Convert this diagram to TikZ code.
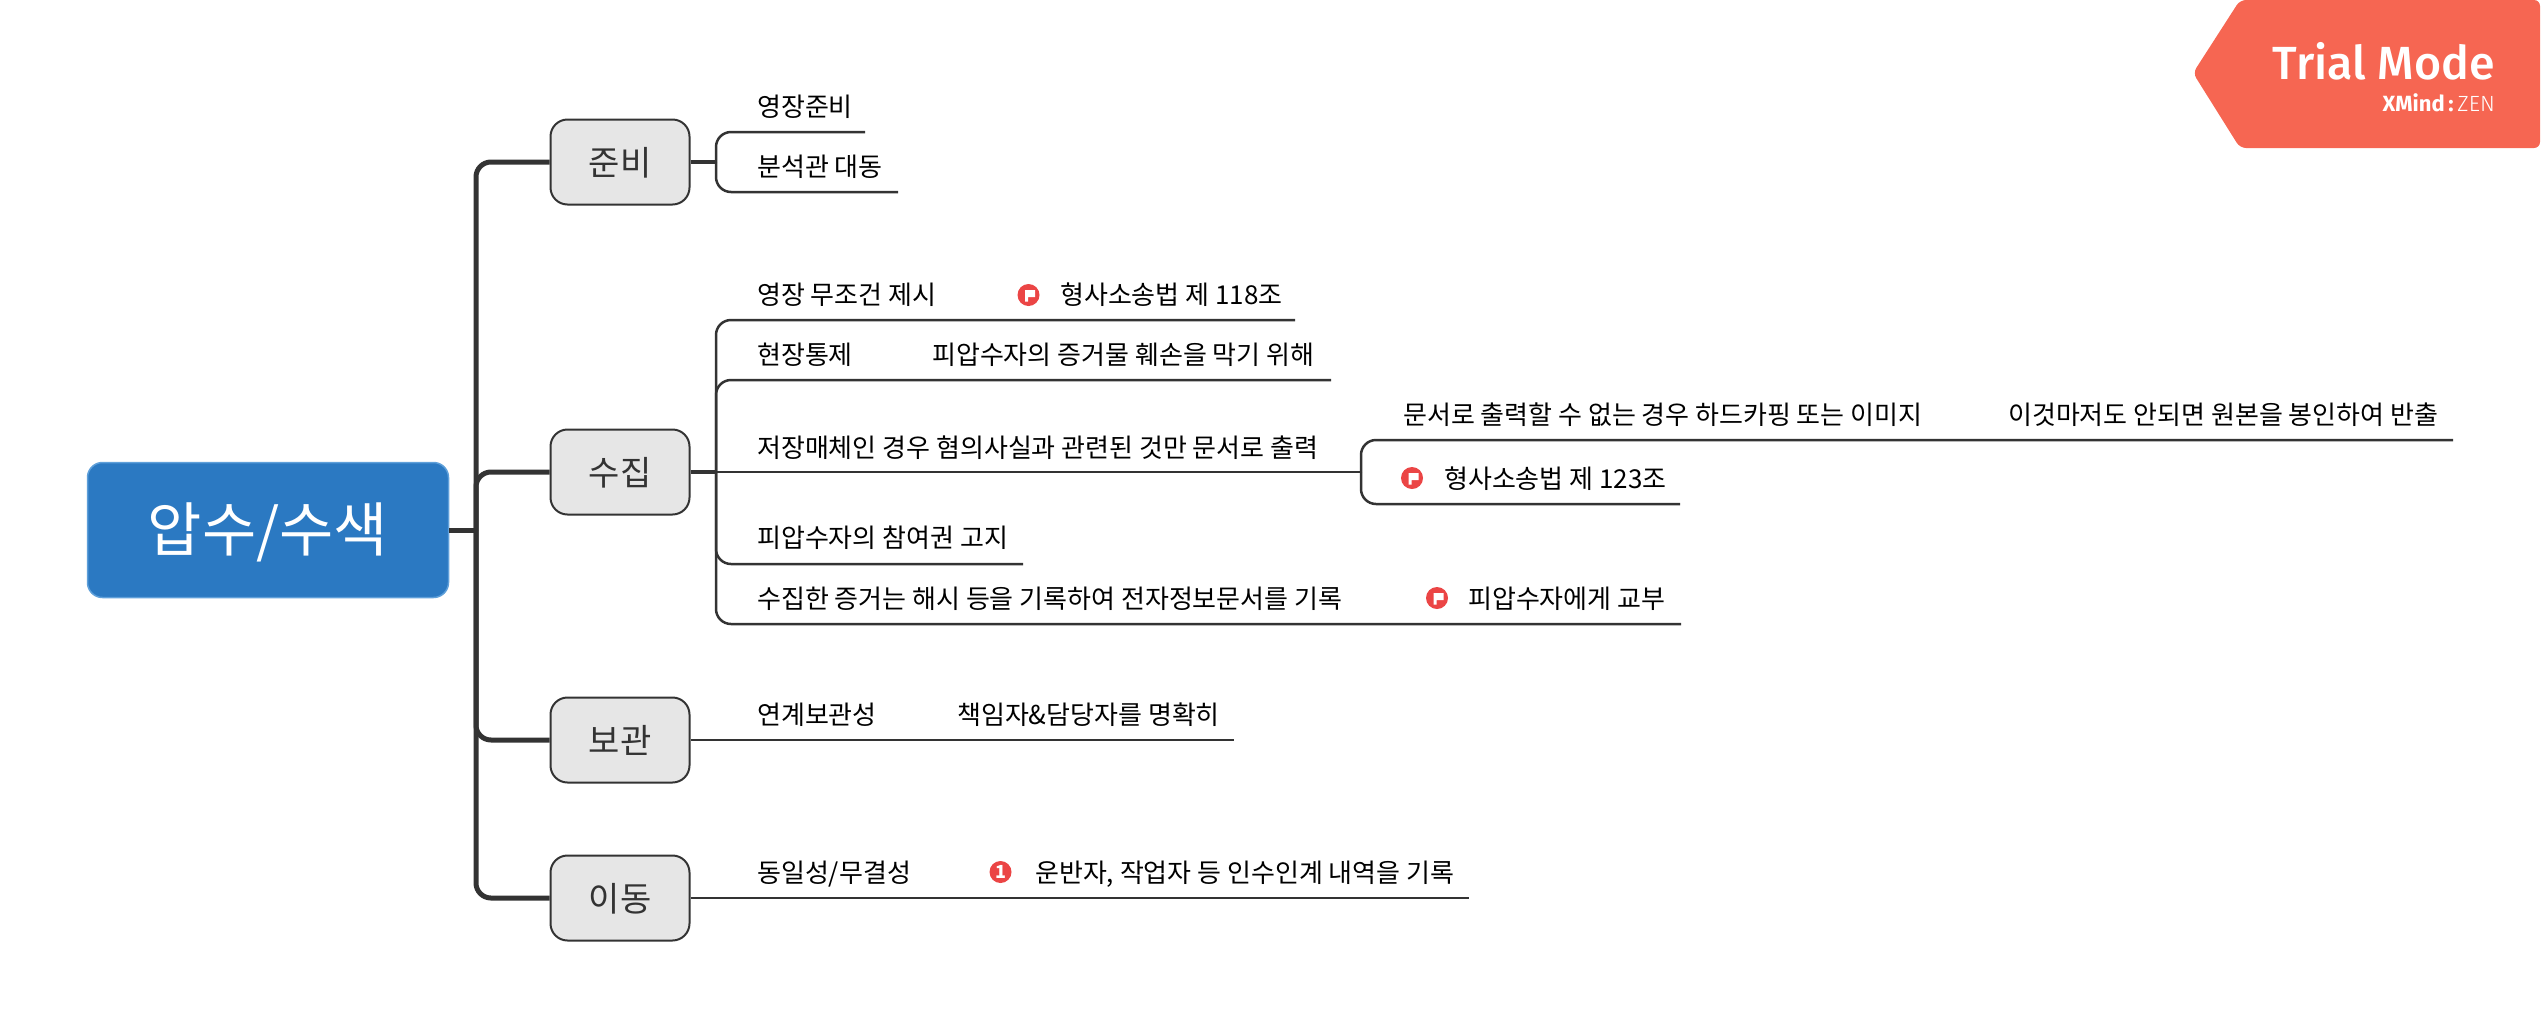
\documentclass[tikz,border=0pt]{standalone}
\usepackage{fontspec}
\setmainfont{Noto Sans CJK KR}
\newfontfamily\trialfont{Fira Sans Medium}
\newfontfamily\zenfont{Fira Sans Light}
\newfontfamily\zenbold{Fira Sans Bold}
\definecolor{ink}{HTML}{333333}
\definecolor{rootblue}{HTML}{2B79C2}
\definecolor{rootedge}{HTML}{5FA0DA}
\definecolor{boxgrey}{HTML}{E6E6E6}
\definecolor{badge}{HTML}{EB4545}
\definecolor{trial}{HTML}{F66652}
\tikzset{
  x=1pt,y=-1pt,
  rootbox/.style={draw=rootedge,line width=1.5pt,fill=rootblue,rounded corners=15pt,minimum width=361pt,minimum height=135pt,inner sep=0,text=white,font=\fontsize{59}{60}\selectfont,text height=52pt,text depth=10pt},
  topic/.style={draw=ink,line width=2pt,fill=boxgrey,rounded corners=17pt,minimum width=139pt,minimum height=85pt,inner sep=0,text=ink,font=\fontsize{34}{36}\selectfont,text height=30pt,text depth=4pt},
  leaf/.style={anchor=west,inner sep=0,text=black,font=\fontsize{26}{28}\selectfont,text height=23pt,text depth=3pt},
  trunkline/.style={draw=ink,line width=5pt,rounded corners=15pt},
  branchline/.style={draw=ink,line width=2.5pt,rounded corners=15pt},
  stubline/.style={draw=ink,line width=3.5pt},
  badgedot/.style={circle,fill=badge,minimum size=22pt,inner sep=0},
}
\newcommand{\flagmark}[1]{\fill[white] ($(#1)+(-3.5,-5)$) -- ++(10,0) -- ++(0,7) -- ++(-7,0) -- ++(0,4.5) -- ++(-3,0) -- cycle;}
\usetikzlibrary{calc}
\begin{document}
\begin{tikzpicture}
\useasboundingbox (0,0) rectangle (2541,1029);
% trial badge
\fill[trial,rounded corners=6pt] (2240,0) -- (2193,73) -- (2240,148) -- (2540,148) -- (2540,0) -- cycle;
\node[anchor=east,inner sep=0,text=white,font=\trialfont\fontsize{46.5}{50}\selectfont] (trialtext) at (2495,61) {Trial Mode};
\node[anchor=east,inner sep=0,text=white,font=\fontsize{22}{24}\selectfont] (zentext) at (2495,103) {{\zenbold XMind}{\zenbold\,:\,}{\zenfont ZEN}};
% main nodes
\node[rootbox] (root) at (268,530) {압수/수색};
\node[topic] (b1) at (620,162) {준비};
\node[topic] (b2) at (620,472) {수집};
\node[topic] (b3) at (620,740) {보관};
\node[topic] (b4) at (620,898) {이동};
\coordinate (trunk) at (476,530);
\coordinate (split1) at (716,162);
\coordinate (split2) at (716,472);
\coordinate (split3) at (1361,472);
% leaves
\node[leaf] (a1) at (757,106) {영장준비};
\node[leaf] (a2) at (757,166) {분석관 대동};
\node[leaf] (c1) at (757,294) {영장 무조건 제시};
\node[badgedot] (c1f) at (1028.5,295) {};
\node[leaf] (c1n) at (1060,294) {형사소송법 제 118조};
\node[leaf] (c2) at (757,354) {현장통제};
\node[leaf] (c2n) at (932,354) {피압수자의 증거물 훼손을 막기 위해};
\node[leaf] (c3) at (757,447) {저장매체인 경우 혐의사실과 관련된 것만 문서로 출력};
\node[leaf] (d1) at (1403,414) {문서로 출력할 수 없는 경우 하드카핑 또는 이미지};
\node[leaf] (d1n) at (2008,414) {이것마저도 안되면 원본을 봉인하여 반출};
\node[badgedot] (d2f) at (1412,478) {};
\node[leaf] (d2) at (1444,478) {형사소송법 제 123조};
\node[leaf] (c4) at (757,537) {피압수자의 참여권 고지};
\node[leaf] (c5) at (757,598) {수집한 증거는 해시 등을 기록하여 전자정보문서를 기록};
\node[badgedot] (c5f) at (1437,598) {};
\node[leaf] (c5n) at (1468,598) {피압수자에게 교부};
\node[leaf] (e1) at (757,714) {연계보관성};
\node[leaf] (e1n) at (957,714) {책임자\&담당자를 명확히};
\node[leaf] (f1) at (757,872) {동일성/무결성};
\node[badgedot] (f1f) at (1000.5,872) {};
\node[text=white,inner sep=0,font=\bfseries\fontsize{18}{18}\selectfont] (f1one) at (f1f) {1};
\node[leaf] (f1n) at (1035,872) {운반자, 작업자 등 인수인계 내역을 기록};
\flagmark{c1f}
\flagmark{d2f}
\flagmark{c5f}
% line ends
\coordinate (ea1) at (865,132);
\coordinate (ea2) at (898,192);
\coordinate (ec1) at (1295,320);
\coordinate (ec2) at (1331,380);
\coordinate (ec4) at (1023,564);
\coordinate (ec5) at (1681,624);
\coordinate (ed1) at (2453,440);
\coordinate (ed2) at (1680,504);
\coordinate (ee1) at (1234,740);
\coordinate (ef1) at (1469,898);
% trunk connectors
\draw[trunkline] (root.east) -- (trunk);
\draw[trunkline] (trunk) |- (b1.west);
\draw[trunkline] (trunk) |- (b2.west);
\draw[trunkline] (trunk) |- (b3.west);
\draw[trunkline] (trunk) |- (b4.west);
% branch connectors
\draw[stubline] (b1.east) -- (split1);
\draw[branchline] (split1) |- (ea1);
\draw[branchline] (split1) |- (ea2);
\draw[branchline] (b2.east) -- (split3);
\draw[stubline] (b2.east) -- (split2);
\draw[branchline] (split2) |- (ec1);
\draw[branchline] (split2) |- (ec2);
\draw[branchline] (split2) |- (ec4);
\draw[branchline] (split2) |- (ec5);
\draw[branchline] (split3) |- (ed1);
\draw[branchline] (split3) |- (ed2);
\draw[branchline] (b3.east) -- (ee1);
\draw[branchline] (b4.east) -- (ef1);
\end{tikzpicture}
\end{document}
